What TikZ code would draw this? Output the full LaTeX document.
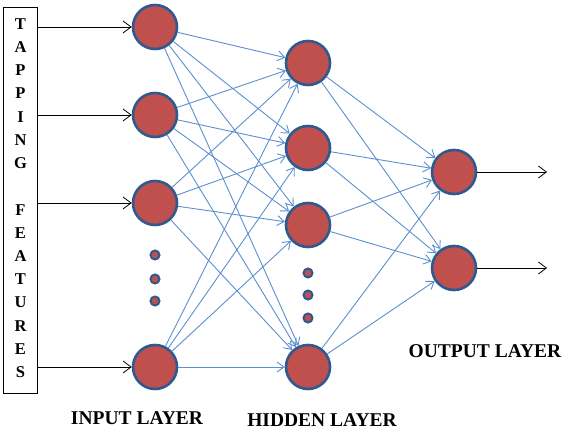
\documentclass[tikz,border=0pt]{standalone}
\usepackage{fontspec}
\setmainfont{Liberation Serif}
\usetikzlibrary{arrows.meta}
\definecolor{nfill}{HTML}{C0504D}
\definecolor{nedge}{HTML}{2F5A8F}
\definecolor{conn}{HTML}{5B8FD0}
\tikzset{
  neuron/.style={circle,fill=nfill,draw=nedge,line width=2.6pt,minimum size=44pt,inner sep=0pt},
  dotn/.style={circle,fill=nfill,draw=nedge,line width=2pt,minimum size=9pt,inner sep=0pt},
  link/.style={draw=conn,line width=0.9pt,-{Straight Barb[length=7pt,width=10pt,line width=0.9pt]}},
  blink/.style={draw=black,line width=0.8pt,-{Straight Barb[length=8pt,width=12pt,line width=0.8pt]}},
  lbl/.style={font=\bfseries\fontsize{19.5}{19.5}\selectfont,inner sep=0pt},
  let/.style={font=\bfseries\fontsize{16.5}{16.5}\selectfont,inner sep=0pt}
}
\begin{document}
\begin{tikzpicture}[x=1pt,y=-1pt]
\useasboundingbox (0,0) rectangle (567,430);
\node[draw=black,line width=0.8pt,minimum width=34pt,minimum height=386pt,inner sep=0pt] (box) at (20.5,200) {};
\foreach \c [count=\i] in {T,A,P,P,I,N,G,,F,E,A,T,U,R,E,S}{
  \node[let] (l\i) at (20.5,{24+(\i-1)*23.2}) {\c};
}
% input layer
\node[neuron] (i1) at (155,27) {};
\node[neuron] (i2) at (155,115) {};
\node[neuron] (i3) at (155,203) {};
\node[neuron] (i4) at (155,367) {};
\node[dotn] (id1) at (155,255) {};
\node[dotn] (id2) at (155,279) {};
\node[dotn] (id3) at (155,301) {};
% hidden layer
\node[neuron] (h1) at (308,63) {};
\node[neuron] (h2) at (308,148) {};
\node[neuron] (h3) at (308,225) {};
\node[neuron] (h4) at (308,367) {};
\node[dotn] (hd1) at (308,273) {};
\node[dotn] (hd2) at (308,295) {};
\node[dotn] (hd3) at (308,318) {};
% output layer
\node[neuron] (o1) at (454,172) {};
\node[neuron] (o2) at (454,268) {};
% inputs
\foreach \i in {1,2,3,4}{
  \coordinate (b\i) at (box.east |- i\i);
  \draw[blink] (b\i) -- (i\i);
}
\foreach \i in {1,2,3,4}{
  \foreach \j in {1,2,3,4}{
    \draw[link] (i\i) -- (h\j);
  }
  \foreach \k in {1,2}{
    \draw[link] (h\i) -- (o\k);
  }
}
\coordinate (e1) at (547,172);
\coordinate (e2) at (547,268);
\draw[blink] (o1) -- (e1);
\draw[blink] (o2) -- (e2);
\node[lbl] (tin) at (137,418) {INPUT LAYER};
\node[lbl] (thid) at (322,420) {HIDDEN LAYER};
\node[lbl] (tout) at (485,351) {OUTPUT LAYER};
\end{tikzpicture}
\end{document}
